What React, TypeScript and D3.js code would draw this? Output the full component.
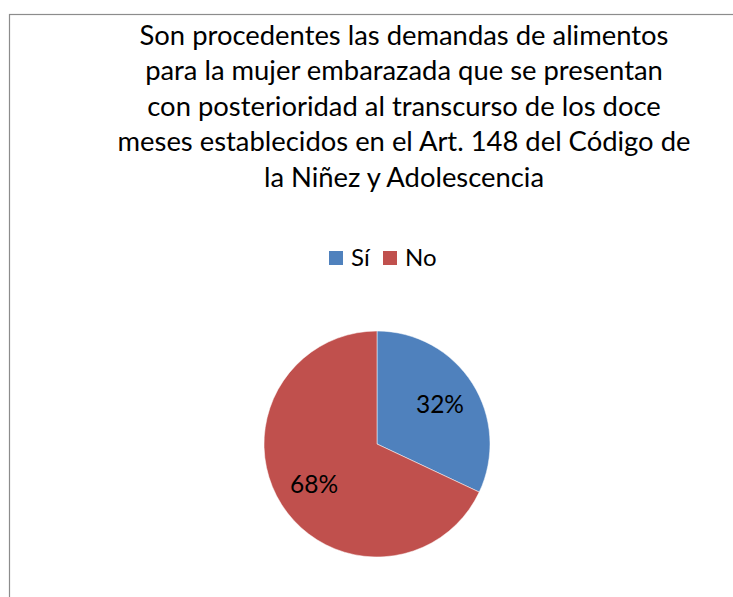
import React, { useRef, useEffect } from "react";
import * as d3 from "d3";

const categories = ["Sí", "No"];
const values = [32, 68];
const colors = ["#4F81BD", "#C0504D"];
const titleLines = [
  "Son procedentes las demandas de alimentos",
  "para la mujer embarazada que se presentan",
  "con posterioridad al transcurso de los doce",
  "meses establecidos en el Art. 148 del Código de",
  "la Niñez y Adolescencia",
];

const App = () => {
  const svgRef = useRef<SVGSVGElement>(null);

  useEffect(() => {
    const svg = d3.select(svgRef.current);
    svg.selectAll("*").remove();
    const font = "Lato, 'Open Sans', sans-serif";

    // chart frame
    svg
      .append("rect")
      .attr("x", 9.5)
      .attr("y", 14.5)
      .attr("width", 740)
      .attr("height", 600)
      .attr("fill", "#fff")
      .attr("stroke", "#8c8c8c")
      .attr("stroke-width", 1.2);

    // title
    svg
      .append("g")
      .selectAll("text")
      .data(titleLines)
      .enter()
      .append("text")
      .attr("x", 404)
      .attr("y", (d, i) => 45 + i * 35.4)
      .attr("text-anchor", "middle")
      .attr("font-family", font)
      .attr("font-size", 27.4)
      .attr("fill", "#000")
      .text(d => d);

    // legend
    const legendX = [329, 383];
    const legend = svg
      .append("g")
      .selectAll("g")
      .data(categories)
      .enter()
      .append("g")
      .attr("transform", (d, i) => `translate(${legendX[i]}, 251)`);
    legend
      .append("rect")
      .attr("width", 14)
      .attr("height", 14)
      .attr("fill", (d, i) => colors[i]);
    legend
      .append("text")
      .attr("x", 22)
      .attr("y", 15)
      .attr("font-family", font)
      .attr("font-size", 24)
      .text(d => d);

    // pie
    const radius = 113;
    const pie = d3.pie<number>().sort(null).value(d => d);
    const arc = d3.arc<d3.PieArcDatum<number>>().innerRadius(0).outerRadius(radius);
    const labelArc = d3
      .arc<d3.PieArcDatum<number>>()
      .innerRadius(radius * 0.66)
      .outerRadius(radius * 0.66);
    const g = svg.append("g").attr("transform", "translate(377, 444)");
    const arcs = pie(values);
    g.selectAll("path")
      .data(arcs)
      .enter()
      .append("path")
      .attr("d", arc)
      .attr("fill", (d, i) => colors[i])
      .attr("stroke", "#fff")
      .attr("stroke-width", 0.5);
    g.selectAll(".lbl")
      .data(arcs)
      .enter()
      .append("text")
      .attr("class", "lbl")
      .attr("transform", d => `translate(${labelArc.centroid(d)})`)
      .attr("text-anchor", "middle")
      .attr("dy", "0.35em")
      .attr("font-family", font)
      .attr("font-size", 24.5)
      .text(d => `${d.data}%`);
  }, []);

  return (
    <svg
      ref={svgRef}
      width={733}
      height={597}
      style={{ position: "absolute", left: 0, top: 0, background: "#fff" }}
    ></svg>
  );
};

export default App;
